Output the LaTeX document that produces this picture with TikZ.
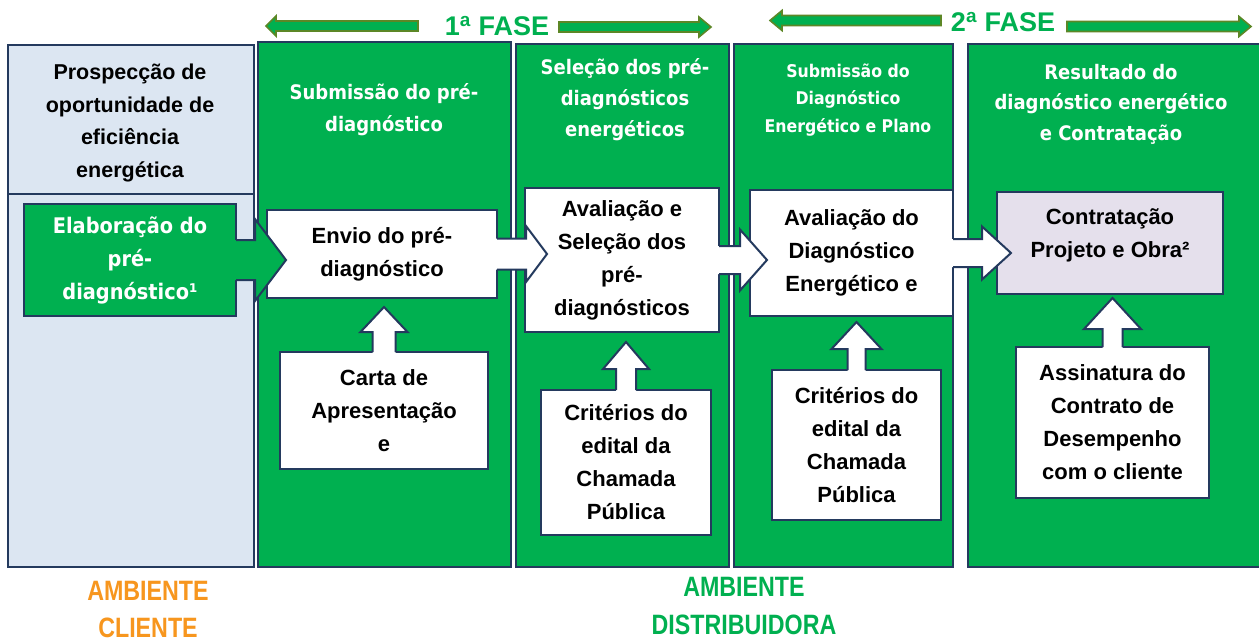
\documentclass[tikz,border=0pt]{standalone}
\usepackage{fontspec}
\setmainfont{Liberation Sans}
\newfontfamily\hdrfont{DejaVu Sans Condensed}
\newfontfamily\narrowfont[FakeStretch=0.83]{Liberation Sans}
\usetikzlibrary{calc}
\definecolor{navy}{RGB}{36,58,94}
\definecolor{grn}{RGB}{0,176,80}
\definecolor{ltblue}{RGB}{220,230,242}
\definecolor{lav}{RGB}{229,224,236}
\definecolor{olive}{RGB}{92,135,38}
\definecolor{orng}{RGB}{247,150,30}
\newcommand{\boxfont}{\bfseries\fontsize{22}{33}\selectfont}
\newcommand{\rblock}[6]{%
  \fill[#1] (#2) ++(-2,-#4) -- ++({#3+2},0) -- ++(0,{-(#5-#4)}) -- ++(#6,#5) -- ++(-#6,#5) -- ++(0,{-(#5-#4)}) -- ++({-(#3+2)},0) -- cycle;
  \draw[arrowline] (#2) ++(0,-#4) -- ++(#3,0) -- ++(0,{-(#5-#4)}) -- ++(#6,#5) -- ++(-#6,#5) -- ++(0,{-(#5-#4)}) -- ++(-#3,0);
}
\newcommand{\ublock}[6]{%
  \fill[#1] (#2) ++(-#4,2) -- ++(0,{-(#3+2)}) -- ++({-(#5-#4)},0) -- ++(#5,-#6) -- ++(#5,#6) -- ++({-(#5-#4)},0) -- ++(0,{#3+2}) -- cycle;
  \draw[arrowline] (#2) ++(-#4,0) -- ++(0,-#3) -- ++({-(#5-#4)},0) -- ++(#5,-#6) -- ++(#5,#6) -- ++({-(#5-#4)},0) -- ++(0,#3);
}
\tikzset{
  colbox/.style={draw=navy, line width=2.4pt, anchor=north west, inner sep=0pt, outer sep=0pt},
  boxnode/.style={draw=navy, line width=2pt, fill=white, anchor=north west, inner sep=0pt, outer sep=0pt, align=center, text=black, font=\boxfont},
  arrowline/.style={draw=navy, line width=2pt, line join=miter},
  hdrtext/.style={align=center, text=white, inner sep=0pt},
  phase/.style={fill=grn, draw=olive, line width=1.6pt},
  phasetext/.style={text=grn, inner sep=0pt, font=\bfseries\fontsize{27}{30}\selectfont},
  envtext/.style={inner sep=0pt, align=center, font=\narrowfont\bfseries\fontsize{28}{37.5}\selectfont}
}
\begin{document}
\begin{tikzpicture}[x=1pt,y=-1pt]
\useasboundingbox[fill=white] (0,0) rectangle (1259,643);
% columns
\node[colbox, fill=ltblue, minimum width=246pt, minimum height=149pt] (col1top) at (8,45) {};
\node[colbox, fill=ltblue, minimum width=246pt, minimum height=373pt] (col1) at (8,194) {};
\node[colbox, fill=grn, minimum width=253pt, minimum height=525pt] (col2) at (258,42) {};
\node[colbox, fill=grn, minimum width=213pt, minimum height=523pt] (col3) at (516,44) {};
\node[colbox, fill=grn, minimum width=219pt, minimum height=523pt] (col4) at (734,44) {};
\node[colbox, fill=grn, minimum width=300pt, minimum height=523pt] (col5) at (968,44) {};
% headers
\node[align=center, inner sep=0pt, font=\bfseries\fontsize{21.5}{32.5}\selectfont] (hdr1) at (130,123) {Prospecção de\\oportunidade de\\eficiência\\energética};
\node[hdrtext, font=\hdrfont\bfseries\fontsize{20}{32}\selectfont] (hdr2) at (384,110) {Submissão do pré-\\diagnóstico};
\node[hdrtext, font=\hdrfont\bfseries\fontsize{20}{31}\selectfont] (hdr3) at (625,100) {Seleção dos pré-\\diagnósticos\\energéticos};
\node[hdrtext, font=\hdrfont\bfseries\fontsize{17.5}{27.5}\selectfont] (hdr4) at (848,100) {Submissão do\\Diagnóstico\\Energético e Plano};
\node[hdrtext, font=\hdrfont\bfseries\fontsize{20}{30.5}\selectfont] (hdr5) at (1111,104) {Resultado do\\diagnóstico energético\\e Contratação};
% boxes
\node[boxnode, fill=grn, text=white, font=\hdrfont\bfseries\fontsize{21.5}{33}\selectfont, minimum width=212pt, minimum height=112pt] (elab) at (24,204) {Elaboração do\\pré-\\diagnóstico¹};
\node[boxnode, minimum width=230pt, minimum height=88pt] (envio) at (267,210) {Envio do pré-\\diagnóstico};
\node[boxnode, minimum width=194pt, minimum height=144pt] (aval1) at (525,188) {Avaliação e\\Seleção dos\\pré-\\diagnósticos};
\node[boxnode, minimum width=203pt, minimum height=126pt] (aval2) at (750,190) {Avaliação do\\Diagnóstico\\Energético e};
\node[boxnode, fill=lav, minimum width=226pt, minimum height=102pt] (contr) at (997,192) {};
\node[align=center, inner sep=0pt, font=\boxfont] (contrtext) at (1110,235) {Contratação\\Projeto e Obra²};
\node[boxnode, minimum width=208pt, minimum height=117pt] (carta) at (280,352) {Carta de\\Apresentação\\e};
\node[boxnode, minimum width=170pt, minimum height=145pt] (crit1) at (541,390) {Critérios do\\edital da\\Chamada\\Pública};
\node[boxnode, minimum width=169pt, minimum height=150pt] (crit2) at (772,370) {Critérios do\\edital da\\Chamada\\Pública};
\node[boxnode, minimum width=193pt, minimum height=151pt] (assin) at (1016,347) {Assinatura do\\Contrato de\\Desempenho\\com o cliente};
% horizontal block arrows
\rblock{grn}{elab.east}{19}{20}{41}{31}
\rblock{white}{envio.east}{29}{15.5}{28}{21}
\rblock{white}{aval1.east}{21}{14}{30.5}{27}
\rblock{white}{aval2.east}{29}{14}{26.5}{29}
% upward block arrows
\ublock{white}{carta.north}{20}{11.5}{23.5}{25}
\ublock{white}{crit1.north}{21}{10}{23}{27}
\ublock{white}{crit2.north}{21}{9}{25}{27}
\ublock{white}{assin.north}{18}{10}{28.5}{31}
% phase labels and arrows
\node[phasetext] (fase1) at (497,26) {1\textsuperscript{a} FASE};
\node[phasetext] (fase2) at (1003,22) {2\textsuperscript{a} FASE};
\draw[phase] (418,21) -- (276,21) -- (276,16) -- (266,26) -- (276,36) -- (276,31) -- (418,31) -- cycle;
\draw[phase] (559,22) -- (699,22) -- (699,17) -- (711,27) -- (699,37) -- (699,32) -- (559,32) -- cycle;
\draw[phase] (941,15.5) -- (782,15.5) -- (782,10.5) -- (770,20.5) -- (782,30.5) -- (782,25.5) -- (941,25.5) -- cycle;
\draw[phase] (1067,21.5) -- (1239,21.5) -- (1239,16.5) -- (1251,26.5) -- (1239,36.5) -- (1239,31.5) -- (1067,31.5) -- cycle;
% environment labels
\node[envtext, text=orng] (ambcli) at (148,609.5) {AMBIENTE\\CLIENTE};
\node[envtext, text=grn] (ambdist) at (744,606) {AMBIENTE\\DISTRIBUIDORA};
\end{tikzpicture}
\end{document}
